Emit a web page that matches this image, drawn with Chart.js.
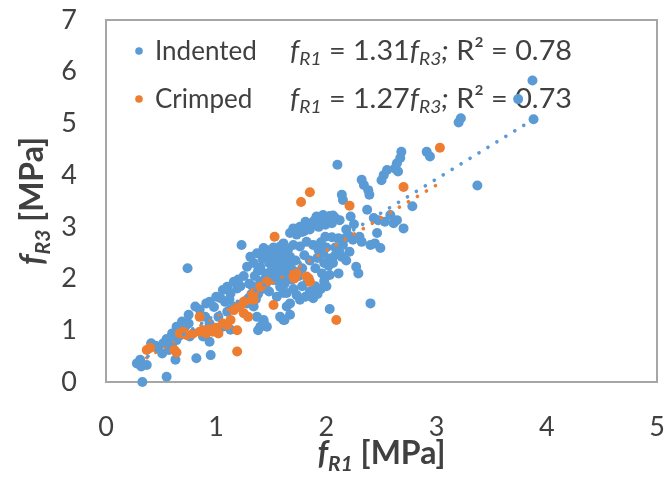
<!DOCTYPE html>
<html><head><meta charset="utf-8">
<script src="https://cdn.jsdelivr.net/npm/chart.js@4"></script>
<style>html,body{margin:0;padding:0;background:#fff}#wrap{width:672px;height:477px;position:relative}</style>
</head><body><div id="wrap"><canvas id="c" width="672" height="477"></canvas></div>
<script>
const xTicks = [0, 1, 2, 3, 4, 5];
const yTicks = [0, 1, 2, 3, 4, 5, 6, 7];
const seriesNames = ['Indented', 'Crimped'];
const slopes = ['1.31', '1.27'];
const rSquared = ['0.78', '0.73'];

const indented = [
[0.33,0.00],[0.55,0.10],[0.28,0.36],[0.31,0.43],[0.37,0.33],[0.32,0.30],
[0.41,0.75],[0.47,0.65],[0.51,0.55],[0.63,0.43],[0.60,0.68],[0.64,0.81],[0.60,0.94],[0.64,1.07],
[0.69,1.17],[0.75,1.30],[0.75,1.13],[0.70,1.00],[0.76,0.88],[0.82,0.46],[0.95,0.52],[0.74,2.20],
[0.55,0.83],[0.58,0.75],
[0.81,1.46],[0.91,1.52],[0.94,1.55],[1.00,1.65],[0.90,1.26],[0.94,1.13],[0.91,1.00],[0.88,0.88],
[0.94,0.78],[1.02,1.26],[1.10,1.36],[1.16,1.46],[1.06,1.07],[1.13,1.01],[1.16,1.94],[1.10,1.84],
[1.19,1.81],[1.13,1.71],[1.23,2.65],[1.28,1.52],[1.34,1.46],[1.37,1.26],[1.43,1.20],[1.38,1.00],
[1.46,1.07],[1.43,1.17],[1.40,1.07],[1.58,1.26],[1.61,1.20],[1.64,1.46],[1.67,1.30],[1.62,1.20],
[1.52,1.97],[1.58,1.84],[1.61,1.72],[1.55,1.65],[1.43,2.59],[1.37,2.49],[1.31,2.42],[1.34,2.30],
[1.28,2.23],[1.20,1.98],[1.25,2.05],[1.30,1.90],[1.22,1.85],[1.06,1.78],[1.04,1.62],
[1.38,1.70],[1.42,1.80],[1.45,1.90],[1.48,1.75],[1.40,1.95],[1.45,2.10],[1.50,2.15],[1.35,2.05],
[1.42,2.38],[1.48,2.45],[1.46,2.55],[1.52,2.60],[1.40,2.22],
[1.52,2.20],[1.55,2.30],[1.57,2.40],[1.60,2.25],[1.62,2.35],[1.64,2.45],[1.58,2.10],[1.63,2.05],
[1.66,2.20],[1.68,2.30],[1.55,2.45],[1.60,2.50],[1.65,2.55],[1.53,2.05],[1.57,1.95],[1.62,1.90],
[1.68,1.98],[1.70,2.15],[1.72,2.35],[1.67,2.42],[1.58,2.62],[1.61,2.68],[1.70,2.65],[1.76,2.62],
[1.50,2.35],[1.54,2.52],[1.59,2.32],[1.63,2.22],
[1.91,3.20],[1.97,3.23],[2.03,3.21],[2.08,3.17],[2.12,3.13],[2.05,3.07],[1.99,3.04],[1.93,3.00],
[1.87,3.07],[1.81,3.10],[1.76,3.00],[1.70,2.97],[1.67,2.88],[1.73,2.85],[1.80,2.92],[1.85,2.95],
[1.99,2.81],[2.05,2.80],[2.11,2.78],[2.17,2.78],[2.21,2.82],[1.82,2.71],[1.88,2.65],[1.93,2.55],
[1.97,2.49],[2.03,2.39],[2.06,2.30],[2.21,2.52],[2.14,2.42],[2.27,2.23],[2.29,2.10],[2.11,2.10],
[2.03,2.07],[1.96,2.10],[1.90,2.20],[1.85,2.35],[1.80,2.45],[1.78,2.20],[1.75,2.05],[1.92,2.40],
[2.00,2.60],[1.95,2.70],[2.08,2.60],[2.15,2.65],
[1.64,1.72],[1.73,1.68],[1.81,1.65],[1.88,1.62],[1.67,1.52],[1.76,1.59],[1.70,1.80],[1.78,1.85],
[1.85,1.75],[1.92,1.70],[2.40,1.52],[2.03,1.41],[1.95,1.80],[1.98,1.95],
[2.10,4.20],[2.68,4.45],[2.67,4.33],[2.64,4.23],[2.62,4.13],[2.65,4.07],[2.55,4.10],[2.52,4.00],
[2.50,3.90],[2.32,3.91],[2.34,3.81],[2.38,3.71],[2.39,3.62],[2.14,3.62],[2.15,3.52],[2.37,3.33],
[2.78,3.40],[2.70,2.97],[2.58,3.23],[2.64,3.13],[2.61,3.07],[2.53,3.10],[2.47,3.13],[2.43,3.17],
[2.30,2.81],[2.32,2.71],[2.40,2.65],[2.44,2.68],[2.49,2.59],[2.91,4.45],[2.94,4.36],[3.22,5.10],
[3.20,5.02],[3.37,3.80],[3.87,5.83],[3.74,5.47],[3.88,5.08],[2.22,3.20],[2.25,3.05],[2.18,2.95],
[2.46,2.88],
[1.52,2.28],[1.56,2.18],[1.60,2.40],[1.64,2.30],[1.57,2.25],[1.62,2.15],[1.66,2.35],[1.54,2.38],
[1.58,2.55],[1.63,2.60],[1.45,2.00],[1.48,2.30],[1.43,2.48],[1.38,2.15],[1.33,1.85],[1.36,1.60],
[1.32,1.70],[0.45,0.70],[0.52,0.75],[0.67,0.90],[0.72,1.08],[0.57,0.62],[0.85,1.40],[0.98,1.45],
[1.08,1.55],[1.12,1.60],[1.89,3.12],[1.95,3.15],[2.00,3.10],[2.06,3.22],[1.83,3.00],[1.78,2.90],
[2.08,2.45],[2.12,2.50],[2.18,2.35],[2.02,2.25],[1.98,2.30],[2.24,2.75],[2.00,1.85],[1.90,1.85],
[1.83,1.95]
];

const crimped = [
[0.37,0.62],[0.40,0.66],[0.64,0.57],[0.62,0.62],[0.67,0.94],[0.73,0.91],[0.79,0.94],[0.85,0.97],
[0.91,0.94],[0.97,0.97],[1.02,0.94],[0.70,0.97],[0.88,1.00],[0.94,1.02],[1.00,1.05],[0.85,1.26],
[1.06,1.13],[1.13,1.20],[1.19,1.00],[1.19,0.59],[1.16,1.39],[1.22,1.49],[1.28,1.59],[1.31,1.65],
[1.34,1.72],[1.25,1.33],[1.29,1.26],[1.34,1.59],[1.40,1.84],[1.46,1.94],[1.52,1.49],[1.53,2.81],
[1.70,2.04],[1.73,2.10],[1.82,2.04],[1.85,1.94],[1.71,2.00],[1.84,2.00],[1.77,3.48],[1.85,3.67],
[2.09,1.20],[2.21,3.41],[2.70,3.77],[3.03,4.53],[1.10,1.10],[1.25,1.55],[1.20,1.45]
];

const indentedTrend = [[0.30,0.39],[3.88,5.08]];
const crimpedTrend = [[0.37,0.47],[3.00,3.81]];

const BLUE = '#5B9BD5', ORANGE = '#ED7D31', TXT = '#404040';
const toXY = a => a.map(([x, y]) => ({x, y}));

function drawRich(ctx, x, y, segs) {
  for (const s of segs) {
    ctx.font = s.f;
    ctx.fillText(s.t, x, y + (s.dy || 0));
    x += ctx.measureText(s.t).width;
  }
}
function richWidth(ctx, segs) {
  let w = 0;
  for (const s of segs) { ctx.font = s.f; w += ctx.measureText(s.t).width; }
  return w;
}
function eqSegs(i) {
  const R = '27px Lato', I = 'italic 27px Lato', S = 'italic 18px Lato';
  return [
    {t:'f', f:I}, {t:'R1', f:S, dy:5}, {t:' = ' + slopes[i], f:R},
    {t:'f', f:I}, {t:'R3', f:S, dy:5}, {t:';', f:I},
    {t:' R\u00B2 = ' + rSquared[i], f:R}
  ];
}

const decor = {
  id: 'decor',
  beforeDatasetsDraw(chart) {
    const {ctx, chartArea: a} = chart;
    ctx.save();
    ctx.strokeStyle = '#A6A6A6';
    ctx.lineWidth = 2;
    ctx.strokeRect(a.left, a.top, a.right - a.left, a.bottom - a.top);
    const cols = [BLUE, ORANGE];
    const rows = [60, 108];
    ctx.textBaseline = 'alphabetic';
    ctx.textAlign = 'left';
    for (let i = 0; i < 2; i++) {
      ctx.fillStyle = cols[i];
      ctx.beginPath(); ctx.arc(139, rows[i] - 9, 3.8, 0, Math.PI * 2); ctx.fill();
      ctx.fillStyle = TXT;
      ctx.font = '26px Lato';
      ctx.fillText(seriesNames[i], 155, rows[i]);
      const segs = eqSegs(i);
      const w = richWidth(ctx, segs);
      ctx.save();
      ctx.translate(290, rows[i]);
      ctx.scale(282 / w, 1);
      drawRich(ctx, 0, 0, segs);
      ctx.restore();
    }
    ctx.restore();
  },
  afterDraw(chart) {
    const {ctx, chartArea: a} = chart;
    ctx.save();
    ctx.fillStyle = TXT;
    ctx.textBaseline = 'alphabetic';
    ctx.textAlign = 'left';
    const B = 'bold 32px Lato', BI = 'italic bold 32px Lato', BS = 'italic bold 21px Lato';
    const xs = [{t:'f', f:BI}, {t:'R1', f:BS, dy:7}, {t:' [MPa]', f:B}];
    const cx = (a.left + a.right) / 2;
    drawRich(ctx, cx - richWidth(ctx, xs) / 2, 464, xs);
    const ys = [{t:'f', f:BI}, {t:'R3', f:BS, dy:7}, {t:' [MPa]', f:B}];
    const cy = (a.top + a.bottom) / 2;
    ctx.translate(43, cy);
    ctx.rotate(-Math.PI / 2);
    drawRich(ctx, -richWidth(ctx, ys) / 2, 0, ys);
    ctx.restore();
  }
};

function noPad(s) { s.paddingTop = 0; s.paddingBottom = 0; s.paddingLeft = 0; s.paddingRight = 0; }

function build() {
  new Chart(document.getElementById('c'), {
    type: 'scatter',
    data: {
      datasets: [
        {type:'line', label:'Indented trend', data: toXY(indentedTrend), borderColor: BLUE, borderWidth: 3.6,
         borderDash: [0.1, 10.4], borderCapStyle: 'round', pointRadius: 0, fill: false, clip: false},
        {type:'line', label:'Crimped trend', data: toXY(crimpedTrend), borderColor: ORANGE, borderWidth: 3.6,
         borderDash: [0.1, 10.4], borderCapStyle: 'round', pointRadius: 0, fill: false, clip: false},
        {label: seriesNames[1], data: toXY(crimped), backgroundColor: ORANGE, borderWidth: 0, pointRadius: 5, clip: false},
        {label: seriesNames[0], data: toXY(indented), backgroundColor: BLUE, borderWidth: 0, pointRadius: 5, clip: false}
      ]
    },
    options: {
      responsive: false,
      animation: false,
      devicePixelRatio: 1,
      layout: {padding: {left: 0, right: 15, top: 20, bottom: 0}},
      plugins: {legend: {display: false}, tooltip: {enabled: false}},
      scales: {
        x: {
          type: 'linear', min: xTicks[0], max: xTicks[xTicks.length - 1],
          afterBuildTicks: s => { s.ticks = xTicks.map(v => ({value: v})); },
          afterFit: s => { s.height = 95; noPad(s); },
          grid: {display: false, drawTicks: false},
          border: {display: false},
          ticks: {color: TXT, font: {family: 'Lato', size: 27}, padding: 29}
        },
        y: {
          type: 'linear', min: yTicks[0], max: yTicks[yTicks.length - 1],
          afterBuildTicks: s => { s.ticks = yTicks.map(v => ({value: v})); },
          afterFit: s => { s.width = 106; noPad(s); },
          grid: {display: false, drawTicks: false},
          border: {display: false},
          ticks: {color: TXT, font: {family: 'Lato', size: 27}, padding: 29}
        }
      }
    },
    plugins: [decor]
  });
}
Promise.all([
  document.fonts.load('25px Lato'), document.fonts.load('italic 25px Lato'),
  document.fonts.load('bold 32px Lato'), document.fonts.load('italic bold 32px Lato')
]).then(build, build);
</script>
</body></html>
